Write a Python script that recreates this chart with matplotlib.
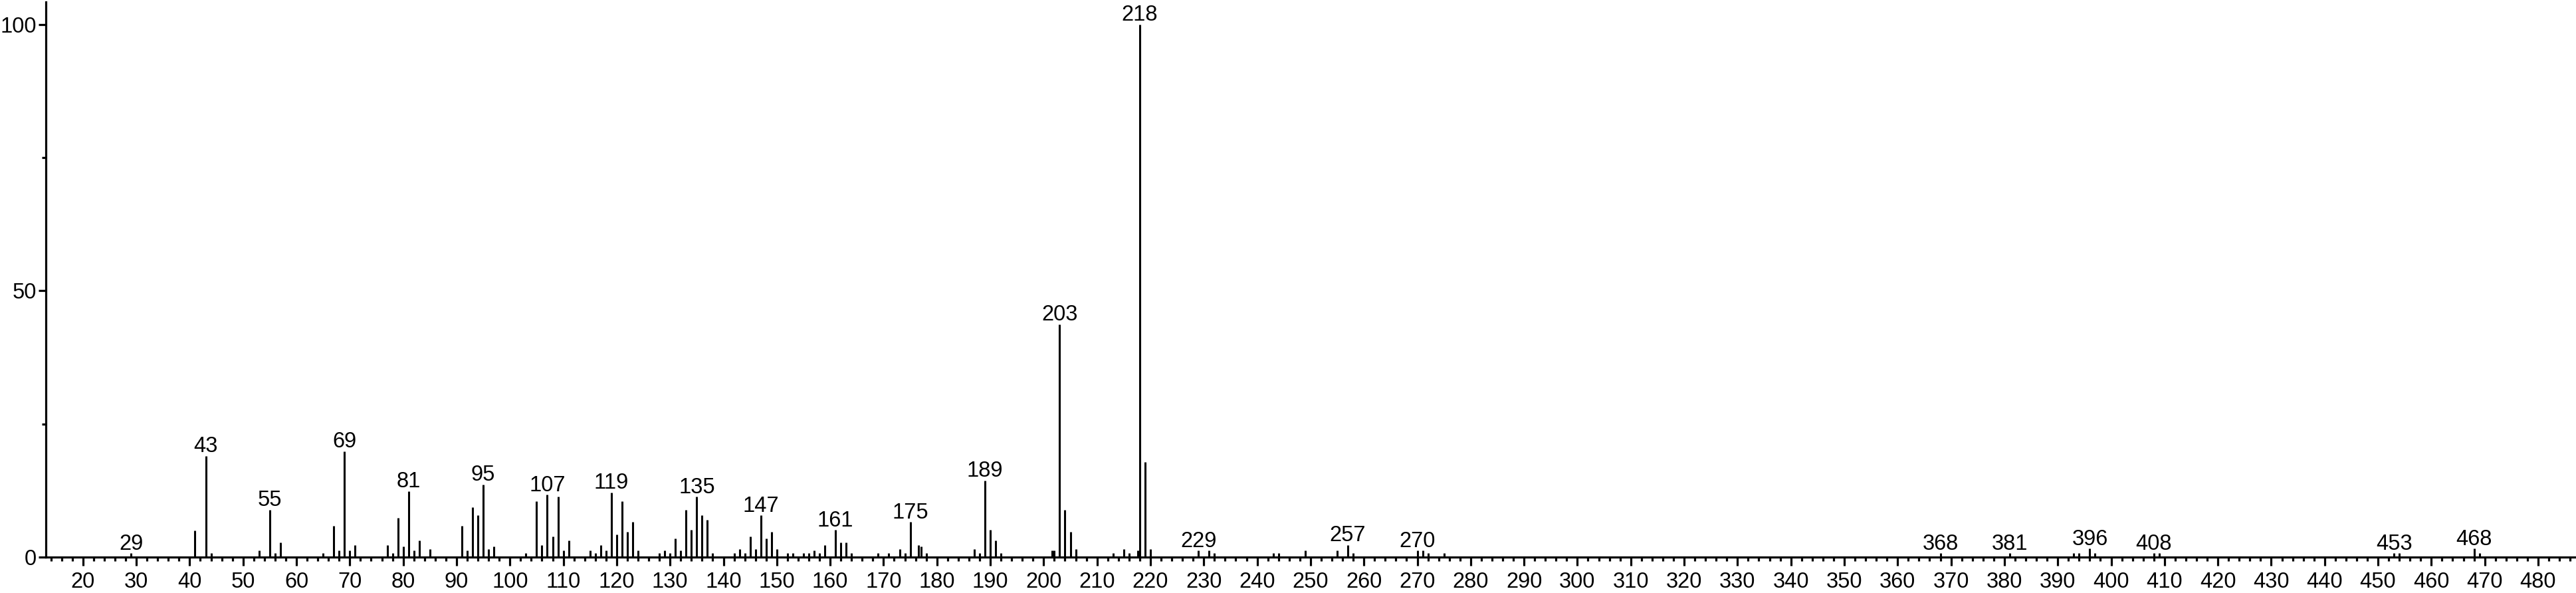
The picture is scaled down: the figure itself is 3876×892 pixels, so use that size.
import matplotlib
matplotlib.use("Agg")
from matplotlib import pyplot as plt
from matplotlib.ticker import MultipleLocator

plt.rcParams['font.family'] = ['Liberation Sans', 'DejaVu Sans']

# m/z values and relative intensities
mz = [29, 41, 43, 44, 53, 55, 56, 57, 65, 67, 68, 69, 70, 71, 77, 78, 79, 80, 81, 82,
      83, 85, 91, 92, 93, 94, 95, 96, 97, 103, 105, 106, 107, 108, 109, 110, 111,
      115, 116, 117, 118, 119, 120, 121, 122, 123, 124, 128, 129, 130, 131, 132,
      133, 134, 135, 136, 137, 138, 142, 143, 144, 145, 146, 147, 148, 149, 150,
      152, 153, 155, 156, 157, 158, 159, 161, 162, 163, 164, 169, 171, 173, 174,
      175, 176.6, 177, 178, 187, 188, 189, 190, 191, 192, 201.6, 202, 203, 204,
      205, 206, 213, 215, 216, 217.6, 218, 219, 220, 229, 231, 232, 243, 244, 249,
      255, 257, 258, 270, 271, 272, 275, 368, 381, 393, 394, 396, 397, 408, 409,
      453, 454, 468, 469]
intensity = [0.7, 5.0, 19.0, 0.7, 1.2, 8.9, 0.7, 2.7, 0.7, 5.9, 1.2, 19.9, 1.2, 2.3,
             2.3, 0.7, 7.4, 2.0, 12.4, 1.2, 3.1, 1.5, 5.9, 1.2, 9.4, 7.8, 13.6, 1.5,
             2.0, 0.7, 10.5, 2.3, 11.7, 3.9, 11.3, 1.2, 3.1, 1.2, 0.7, 2.3, 1.2, 12.1,
             4.3, 10.5, 4.7, 6.6, 1.2, 0.7, 1.2, 0.7, 3.5, 1.2, 8.9, 5.1, 11.3, 7.8,
             7.0, 0.7, 0.7, 1.5, 0.7, 3.9, 1.5, 7.8, 3.5, 4.7, 1.5, 0.7, 0.7, 0.7,
             0.7, 1.2, 0.7, 2.3, 5.1, 2.7, 2.7, 0.7, 0.7, 0.7, 1.5, 0.7, 6.6, 2.3,
             2.0, 0.7, 1.5, 0.7, 14.4, 5.1, 3.1, 0.7, 1.2, 1.2, 43.7, 8.9, 4.7, 1.5,
             0.7, 1.5, 0.7, 1.2, 100.0, 17.9, 1.5, 1.2, 1.2, 0.7, 0.7, 0.7, 1.2, 1.2,
             2.3, 0.7, 1.2, 1.2, 0.7, 0.7, 0.7, 0.7, 0.7, 0.7, 1.6, 0.7, 0.7, 0.7,
             0.7, 0.7, 1.6, 0.7]

labeled = [29, 43, 55, 69, 81, 95, 107, 119, 135, 147, 161, 175, 189, 203, 218,
           229, 257, 270, 368, 381, 396, 408, 453, 468]

fig = plt.figure(figsize=(38.76, 8.92), dpi=100)
ax = fig.add_axes([69 / 3876, 54 / 892, 1 - 69 / 3876, 835 / 892])

ax.vlines(mz, 0, intensity, color='black', lw=2.2)

lookup = dict(zip(mz, intensity))
for m in labeled:
    ax.annotate(str(m), (m, lookup[m]), xytext=(0, 4), textcoords='offset points',
                ha='center', va='baseline', fontsize=23.5)

ax.set_xlim(13.05, 487.1)
ax.set_ylim(0, 104.2)

ax.xaxis.set_major_locator(MultipleLocator(10))
ax.xaxis.set_minor_locator(MultipleLocator(2))
ax.yaxis.set_major_locator(MultipleLocator(50))
ax.yaxis.set_minor_locator(MultipleLocator(25))

ax.spines['top'].set_visible(False)
ax.spines['right'].set_visible(False)
ax.spines['left'].set_linewidth(2.3)
ax.spines['bottom'].set_linewidth(2.3)

ax.tick_params(axis='x', which='major', length=9, width=2.3, pad=7, labelsize=23.5)
ax.tick_params(axis='x', which='minor', length=4.5, width=2.3)
ax.tick_params(axis='y', which='major', length=8, width=2.3, pad=2, labelsize=23.5)
ax.tick_params(axis='y', which='minor', length=4.5, width=2.3)

fig.savefig('out.png', dpi=100)
